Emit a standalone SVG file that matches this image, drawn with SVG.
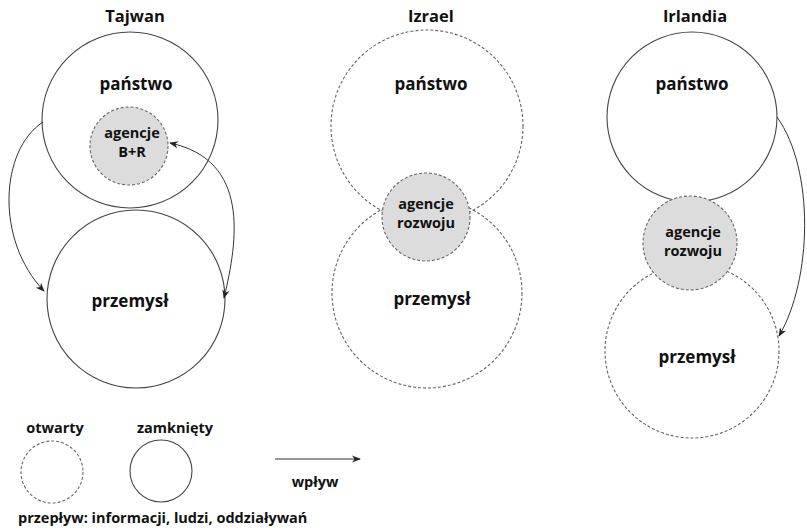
<svg xmlns="http://www.w3.org/2000/svg" width="807" height="531" viewBox="0 0 807 531">
<defs>
<style>
.bg{fill:#fff}
.open{fill:none;stroke:#666;stroke-width:1.1;stroke-dasharray:3 2}
.closed{fill:none;stroke:#444;stroke-width:1.1}
.ag{fill:#dcdcdc;stroke:#666;stroke-width:1.1;stroke-dasharray:3 2}
.t{font-family:"Open Sans","Liberation Sans",sans-serif;font-weight:bold;fill:#111;text-anchor:middle}
.title{font-size:16.5px}
.lbl{font-size:17px}
.sm{font-size:14.5px}
.leg{font-size:14.5px}
.conn{fill:none;stroke:#333;stroke-width:1}
</style>
<marker id="ah" viewBox="0 0 10 10" refX="9" refY="5" markerWidth="9" markerHeight="9" orient="auto-start-reverse" markerUnits="userSpaceOnUse">
<path d="M0,1 L10,5 L0,9 L3,5 Z" fill="#222"/>
</marker>
</defs>
<rect class="bg" x="0" y="0" width="807" height="531"/>

<g id="tajwan">
<text class="t title" x="135" y="22">Tajwan</text>
<g id="tajwan-panstwo"><circle class="closed" cx="130" cy="120" r="88"/><text class="t lbl" x="136" y="90">państwo</text></g>
<g id="tajwan-przemysl"><circle class="closed" cx="136" cy="299" r="89"/><text class="t lbl" x="130" y="307">przemysł</text></g>
<g id="tajwan-agencje"><circle class="ag" cx="129" cy="146" r="39"/><text class="t sm" x="132" y="138">agencje</text><text class="t sm" x="132" y="157">B+R</text></g>
</g>

<g id="izrael">
<text class="t title" x="431" y="22">Izrael</text>
<g id="izrael-panstwo"><circle class="open" cx="427" cy="126" r="96"/><text class="t lbl" x="431" y="90">państwo</text></g>
<g id="izrael-przemysl"><circle class="open" cx="427" cy="293" r="95"/><text class="t lbl" x="432" y="305">przemysł</text></g>
<g id="izrael-agencje"><circle class="ag" cx="426" cy="217" r="44"/><text class="t sm" x="426" y="209">agencje</text><text class="t sm" x="426" y="228">rozwoju</text></g>
</g>

<g id="irlandia">
<text class="t title" x="695" y="22">Irlandia</text>
<g id="irlandia-panstwo"><circle class="closed" cx="692" cy="117" r="85"/><text class="t lbl" x="692" y="90">państwo</text></g>
<g id="irlandia-przemysl"><circle class="open" cx="692" cy="351" r="87"/><text class="t lbl" x="697" y="363">przemysł</text></g>
<g id="irlandia-agencje"><circle class="ag" cx="690" cy="243" r="47"/><text class="t sm" x="693" y="237">agencje</text><text class="t sm" x="693" y="256">rozwoju</text></g>
</g>

<g id="connectors">
<path class="conn" d="M43,122 C0,150 -5,240 44,291" marker-end="url(#ah)"/>
<path class="conn" d="M170,143 C250,160 238,240 224,298" marker-start="url(#ah)" marker-end="url(#ah)"/>
<path class="conn" d="M777,117 C815,170 812,280 779,336" marker-end="url(#ah)"/>
</g>

<g id="legend">
<text class="t leg" x="55" y="433">otwarty</text>
<text class="t leg" x="175" y="433">zamknięty</text>
<circle class="open" cx="52" cy="472" r="31"/>
<circle class="closed" cx="161" cy="471" r="31"/>
<path class="conn" d="M275,459 L360,459" marker-end="url(#ah)"/>
<text class="t leg" x="315" y="487">wpływ</text>
<text class="t leg" x="18" y="523" style="text-anchor:start">przepływ: informacji, ludzi, oddziaływań</text>
</g>
</svg>
